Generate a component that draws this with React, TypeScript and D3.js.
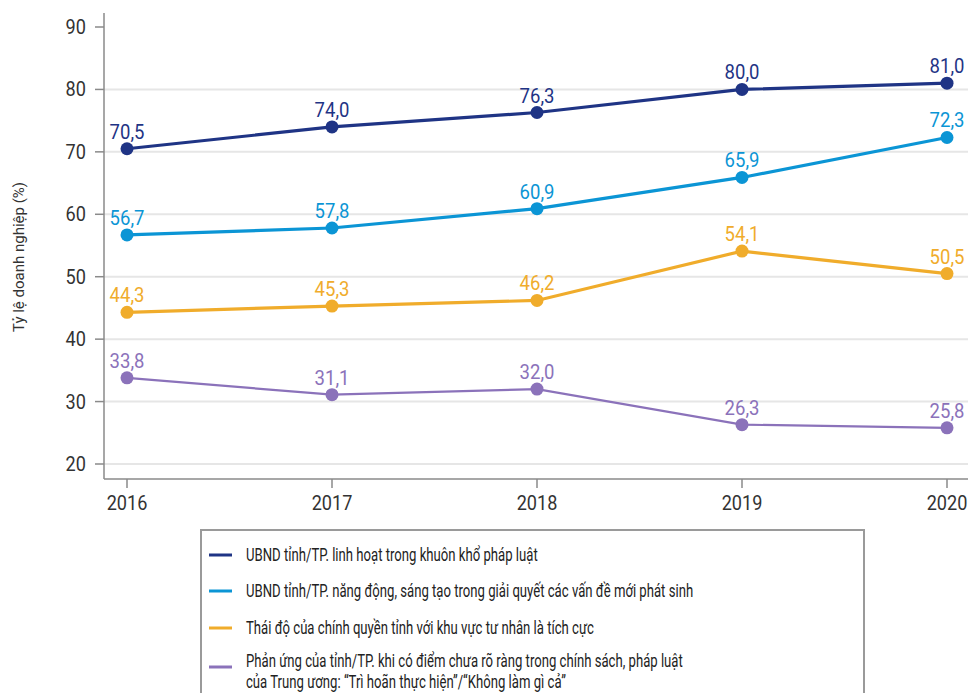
import React from "react";
import * as d3 from "d3";

const years = ["2016", "2017", "2018", "2019", "2020"];
const seriesNames = [
  ["UBND tỉnh/TP. linh hoạt trong khuôn khổ pháp luật"],
  ["UBND tỉnh/TP. năng động, sáng tạo trong giải quyết các vấn đề mới phát sinh"],
  ["Thái độ của chính quyền tỉnh với khu vực tư nhân là tích cực"],
  [
    "Phản ứng của tỉnh/TP. khi có điểm chưa rõ ràng trong chính sách, pháp luật",
    "của Trung ương: “Trì hoãn thực hiện”/“Không làm gì cả”",
  ],
];
const valuesFlex = [70.5, 74.0, 76.3, 80.0, 81.0];
const valuesDynamic = [56.7, 57.8, 60.9, 65.9, 72.3];
const valuesAttitude = [44.3, 45.3, 46.2, 54.1, 50.5];
const valuesDelay = [33.8, 31.1, 32.0, 26.3, 25.8];
const yTicks = [20, 30, 40, 50, 60, 70, 80, 90];
const colors = ["#1f3485", "#0b95d5", "#f0ac2b", "#8b72ba"];
const lineWidths = [3.2, 3.2, 3.2, 2.2];

const W = 968;
const H = 693;
const FONT = "Roboto, 'Noto Sans', sans-serif";

export default function App() {
  const allSeries = [valuesFlex, valuesDynamic, valuesAttitude, valuesDelay];
  const x = d3.scalePoint().domain(years).range([127, 947]);
  const y = d3.scaleLinear().domain([20, 90]).range([464, 27]);
  const axisLeft = 104;
  const axisBottom = 479;
  const fmt = (v: number) => v.toFixed(1).replace(".", ",");
  const line = d3
    .line<number>()
    .x((_, i) => x(years[i]) as number)
    .y((d) => y(d));

  const legendRows = [555, 591, 628, 667];

  return (
    <svg
      width={W}
      height={H}
      style={{ position: "absolute", left: 0, top: 0, background: "#fff" }}
      fontFamily={FONT}
    >
      <rect x={0} y={0} width={W} height={H} fill="#fff" />
      {/* grid */}
      {yTicks
        .filter((t) => t < 90)
        .map((t) => (
          <line key={"g" + t} x1={axisLeft} x2={W} y1={y(t)} y2={y(t)} stroke="#e6e6e6" strokeWidth={2} />
        ))}
      {/* y axis */}
      <line x1={axisLeft} x2={axisLeft} y1={13} y2={axisBottom} stroke="#8a8a8a" strokeWidth={1.5} />
      {yTicks.map((t) => (
        <g key={"yt" + t}>
          <line x1={95} x2={axisLeft} y1={y(t)} y2={y(t)} stroke="#8a8a8a" strokeWidth={1.5} />
          <text
            transform={`translate(86,${y(t)}) scale(0.93,1)`}
            dy="0.36em"
            textAnchor="end"
            fontSize={19.5}
            fill="#333"
          >
            {t}
          </text>
        </g>
      ))}
      {/* x axis */}
      <line x1={axisLeft} x2={W} y1={axisBottom} y2={axisBottom} stroke="#8a8a8a" strokeWidth={1.5} />
      {years.map((yr) => (
        <g key={"xt" + yr}>
          <line x1={x(yr)} x2={x(yr)} y1={axisBottom} y2={axisBottom + 9} stroke="#8a8a8a" strokeWidth={1.5} />
          <text
            transform={`translate(${x(yr)},510) scale(0.93,1)`}
            textAnchor="middle"
            fontSize={19.5}
            fill="#333"
          >
            {yr}
          </text>
        </g>
      ))}
      {/* y title */}
      <text
        transform={`translate(24,257) rotate(-90)`}
        textAnchor="middle"
        fontSize={15}
        fill="#333"
      >
        Tỷ lệ doanh nghiệp (%)
      </text>
      {/* series */}
      {allSeries.map((vals, si) => (
        <g key={"s" + si}>
          <path d={line(vals) as string} fill="none" stroke={colors[si]} strokeWidth={lineWidths[si]} />
          {vals.map((v, i) => (
            <circle key={i} cx={x(years[i])} cy={y(v)} r={6.5} fill={colors[si]} />
          ))}
          {vals.map((v, i) => (
            <text
              key={"l" + i}
              transform={`translate(${x(years[i])},${y(v) - 10}) scale(0.95,1)`}
              textAnchor="middle"
              fontSize={19.5}
              fill={colors[si]}
            >
              {fmt(v)}
            </text>
          ))}
        </g>
      ))}
      {/* legend */}
      <rect x={201} y={530} width={663} height={H} fill="#fff" stroke="#9a9a9a" strokeWidth={2} />
      {seriesNames.map((lines, i) => (
        <g key={"lg" + i}>
          <line x1={209} x2={232} y1={legendRows[i]} y2={legendRows[i]} stroke={colors[i]} strokeWidth={3} />
          {lines.map((t, j) => {
            const cy = lines.length === 1 ? legendRows[i] : legendRows[i] - 6 + j * 21;
            return (
              <text
                key={j}
                transform={`translate(246,${cy}) scale(0.73,1)`}
                dy="0.35em"
                fontSize={18}
                fill="#222"
              >
                {t}
              </text>
            );
          })}
        </g>
      ))}
    </svg>
  );
}
